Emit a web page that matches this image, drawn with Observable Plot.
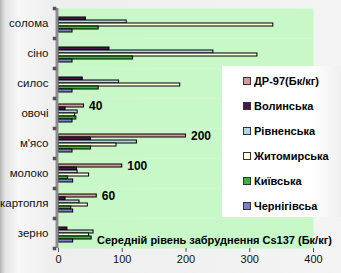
<!DOCTYPE html>
<html><head><meta charset="utf-8">
<script src="https://cdn.jsdelivr.net/npm/d3@7"></script>
<script src="https://cdn.jsdelivr.net/npm/@observablehq/plot@0.6"></script>
<style>
body{margin:0;width:341px;height:273px;overflow:hidden;font-family:"Liberation Sans",Arial,sans-serif;
background:linear-gradient(to right,#b4b4b4 0px,#e4e4e4 5px,#f7f7f7 18px,#eeeeee 52px,#f4f4f4 100%);}
#wrap{position:relative;width:341px;height:273px;}
#chart{position:absolute;left:0;top:0}
#legend{position:absolute;left:222px;top:66px;width:119px;height:151px;background:linear-gradient(to right,#ffffff 75%,#f0f0f0);}
.item{position:absolute;left:21px;font-weight:bold;font-size:11px;line-height:12px;display:flex;align-items:center;white-space:nowrap;color:#000;}
.sw{width:6px;height:6px;border:1px solid #333;margin-right:3px;}
#title{position:absolute;left:97px;top:234px;font-weight:bold;font-size:11px;white-space:nowrap;color:#000;}
</style></head>
<body>
<div id="wrap"><div id="chart"></div><div id="legend"></div><div id="title"></div></div>
<script>
const categories = ["солома","сіно","силос","овочі","м'ясо","молоко","картопля","зерно"];
const series = ["ДР-97(Бк/кг)","Волинська","Рівненська","Житомирська","Київська","Чернігівсьа"];
const colors = ["#d89898","#4a1848","#b2d6e2","#ffffe0","#33b833","#7c7cce"];
const dr97      = [null, null, null, 40, 200, 100, 60, null];
const volyn     = [43, 80, 38, 11, 51, 29, 11, 14];
const rivne     = [107, 243, 95, 30, 123, 30, 33, 55];
const zhytomyr  = [337, 312, 191, 26, 91, 48, 46, 48];
const kyiv      = [63, 117, 63, 28, 51, 15, 20, 52];
const chernihiv = [22, 22, 22, 22, 22, 23, 23, 23];
const xTicks = [0, 100, 200, 300, 400];
const titleText = "Середній рівень забруднення Cs137 (Бк/кг)";

const values = [dr97, volyn, rivne, zhytomyr, kyiv, chernihiv];
const data = [];
categories.forEach((c, i) => series.forEach((s, j) => {
  const v = values[j][i];
  if (v != null) data.push({category: c, series: s, value: v});
}));

const chart = Plot.plot({
  width: 341, height: 273,
  marginLeft: 58, marginRight: 28, marginTop: 5, marginBottom: 23,
  style: {background: "transparent", fontFamily: "Liberation Sans, Arial, sans-serif", color: "#111"},
  x: {domain: [0, 400]},
  fy: {domain: categories, padding: 0},
  y: {type: "band", domain: series, paddingInner: 0, paddingOuter: 0.8, axis: null},
  color: {domain: series, range: colors},
  marks: [
    Plot.frame({fill: "#c8f8c8", stroke: null}),
    Plot.barX(data, {x: "value", y: "series", fy: "category", fill: "series", stroke: "black", strokeWidth: 1}),
    Plot.text(data.filter(d => d.series === series[0]), {x: "value", y: "series", fy: "category", text: d => String(d.value), textAnchor: "start", dx: 5, fontWeight: "bold", fontSize: 12, fill: "#000"}),
    Plot.ruleX([0], {stroke: "#8c8c8c", strokeWidth: 3, dx: -1.5}),
    Plot.dot(categories, {fy: d => d, x: () => 0, frameAnchor: "top", symbol: "square", r: 2, fill: "#555", stroke: null, dx: -4}),
    Plot.dot([categories[categories.length - 1]], {fy: d => d, x: () => 0, frameAnchor: "bottom", symbol: "square", r: 2, fill: "#555", stroke: null, dx: -4}),
    Plot.axisFy({anchor: "left", tickSize: 0, tickPadding: 10, fontSize: 11.5, label: null}),
    Plot.axisX({ticks: xTicks, tickSize: 4, tickPadding: 3, fontSize: 11, label: null, stroke: "#555"})
  ]
});
document.getElementById("chart").appendChild(chart);

const legend = document.getElementById("legend");
series.forEach((s, i) => {
  const it = document.createElement("div");
  it.className = "item";
  it.style.top = (9 + i * 25) + "px";
  const sw = document.createElement("span");
  sw.className = "sw";
  sw.style.background = colors[i];
  it.appendChild(sw);
  it.appendChild(document.createTextNode(s));
  legend.appendChild(it);
});
document.getElementById("title").textContent = titleText;
</script>
</body></html>
